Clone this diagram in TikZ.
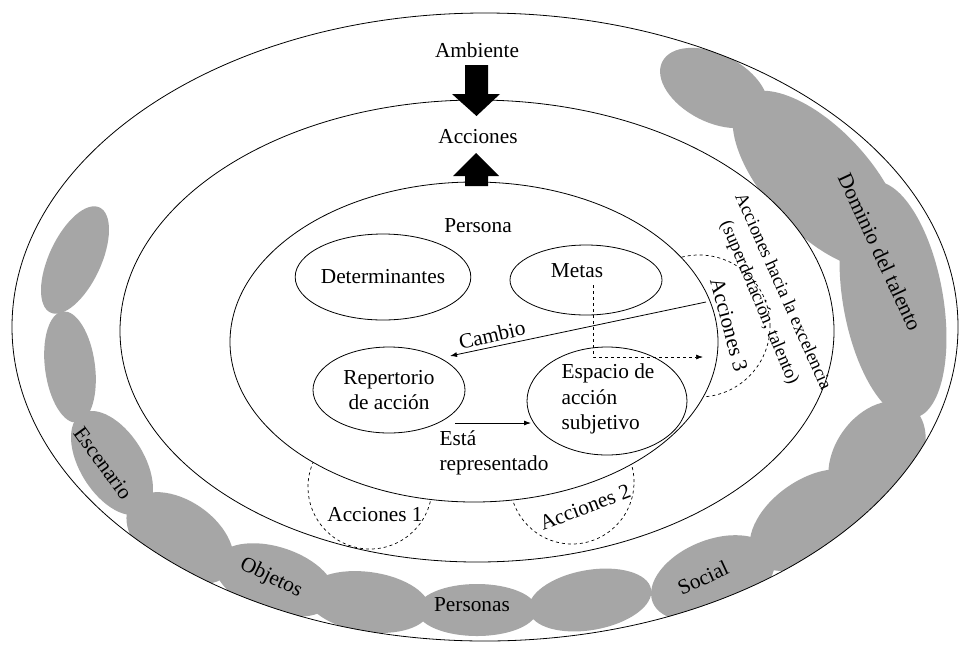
\documentclass[tikz,border=0pt]{standalone}
\usepackage{fontspec}
\setmainfont{Liberation Serif}
\usetikzlibrary{shapes.geometric,arrows.meta}
\newcommand\fsA{\fontsize{21.3}{25.5}\selectfont}
\newcommand\fsB{\fontsize{18.5}{22}\selectfont}
\definecolor{blobgray}{HTML}{A6A6A6}
\tikzset{
  ring/.style={ellipse, draw=black, line width=0.8pt, fill=white, inner sep=0pt},
  box/.style={ellipse, draw=black, line width=0.8pt, inner sep=0pt, align=center, font=\fsA},
  lbl/.style={inner sep=0pt, align=center, font=\fsA},
  lbls/.style={inner sep=0pt, align=center, font=\fsB},
  dcirc/.style={circle, draw=black, dashed, line width=0.7pt, inner sep=0pt},
  blob/.style={fill=blobgray},
  conn/.style={line width=0.8pt, -{Latex[length=7pt,width=5pt]}},
  dconn/.style={line width=0.7pt, dashed, -{Latex[length=7pt,width=5pt]}},
  block/.style={fill=black}
}
\begin{document}
\begin{tikzpicture}[x=1pt,y=1pt]
\useasboundingbox (0,0) rectangle (965,-646);
\fill[white] (0,0) rectangle (965,-646);
% gray blobs, clipped to outer ring
\begin{scope}
\clip (485,-327) ellipse [x radius=473, y radius=314];
\foreach \cx/\cy/\rx/\ry/\a in {
  75/260/58/26/65, 70/367/56/25/-82.5, 112/463/58/32/-58, 180/538/60/37/-35,
  275/580/62/33/-18, 368/602/62/30/-8, 477/610/60/26/0, 590/600/62/30/10,
  713/578/65/38/22, 810/520/68/40/35, 877/456/60/42/55, 893/300/120/50/-80,
  818/180/112/52/-47, 714/88/58/34/-27}
  \fill[blob, rotate around={\a:(\cx,-\cy)}] (\cx,-\cy) ellipse [x radius=\rx, y radius=\ry];
\end{scope}
\node[ring, fill=none, minimum width=946pt, minimum height=628pt] (outer) at (485,-327) {};
\node[ring, minimum width=714pt, minimum height=462pt] (middle) at (477,-331) {};
% blob labels
\node[lbl, rotate=-54] (escenario) at (103,-463) {Escenario};
\node[lbl, rotate=-26] (objetos) at (271,-578) {Objetos};
\node[lbl] (personas) at (472,-605) {Personas};
\node[lbl, rotate=25] (social) at (703,-578) {Social};
\node[lbl, rotate=-65] (dominio) at (880,-252) {Dominio del talento};
% excellence labels
\node[lbls, rotate=-66] (hacia) at (784,-291) {Acciones hacia la excelencia};
\node[lbls, rotate=-67] (super) at (759,-303) {(superdotación, talento)};
% dashed action circles
\node[dcirc, minimum size=124pt] (acc1) at (370,-487) {};
\node[dcirc, minimum size=124pt] (acc2) at (572,-482) {};
\node[dcirc, minimum size=142pt] (acc3) at (699,-326) {};
% inner ring
\node[ring, minimum width=488pt, minimum height=320pt] (inner) at (474,-342) {};
\node[lbl] (acc1t) at (375,-515) {Acciones 1};
\node[lbl, rotate=21] (acc2t) at (585,-507) {Acciones 2};
\node[lbl, rotate=-75] (acc3t) at (729,-325) {Acciones 3};
% top labels and block arrows
\node[lbl] (ambiente) at (477,-50) {Ambiente};
\node[lbl] (acciones) at (478,-137) {Acciones};
\node[lbl] (persona) at (478,-226) {Persona};
\fill[block] (465,-65) -- (488,-65) -- (488,-94) -- (500,-94) -- (476.5,-116) -- (452,-94) -- (465,-94) -- cycle;
\fill[block] (476,-153) -- (499,-176) -- (488,-176) -- (488,-186) -- (465,-186) -- (465,-176) -- (453,-176) -- cycle;
% inner ellipses
\node[box, minimum width=156pt, minimum height=86pt] (det) at (383,-277) {Determinantes};
\node[box, minimum width=152pt, minimum height=70pt] (metas) at (586,-280) {};
\node[lbl] (metast) at (577,-271) {Metas};
\node[box, minimum width=152pt, minimum height=86pt] (rep) at (389,-390) {Repertorio\\de acción};
\node[box, minimum width=160pt, minimum height=108pt] (esp) at (607,-401) {};
\node[lbl, align=left] (espt) at (608,-399) {Espacio de\\acción\\subjetivo};
% connectors
\coordinate (cambioA) at (706,-302);
\coordinate (cambioB) at (450,-356);
\draw[conn] (cambioA) -- (cambioB);
\node[lbl, rotate=13] (cambio) at (492,-335) {Cambio};
\coordinate (estaA) at (455,-423);
\coordinate (estaB) at (531,-423);
\draw[conn] (estaA) -- (estaB);
\node[lbl, align=left] (esta) at (494,-453) {Está\\representado};
\coordinate (metasA) at (593,-285);
\coordinate (metasB) at (593,-357);
\coordinate (metasC) at (703,-357);
\draw[dconn] (metasA) -- (metasB) -- (metasC);
\end{tikzpicture}
\end{document}
